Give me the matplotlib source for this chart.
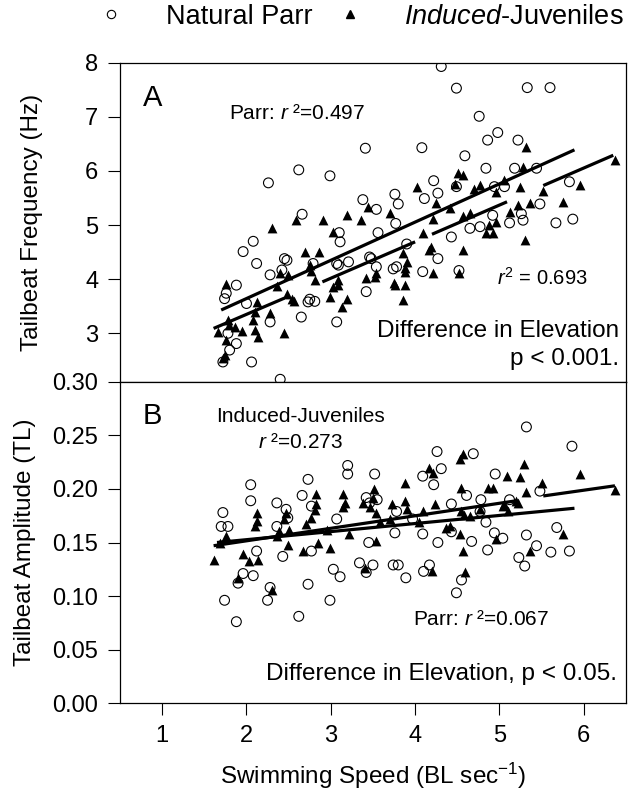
import numpy as np
import matplotlib
matplotlib.use("Agg")
import matplotlib.pyplot as plt
from matplotlib.lines import Line2D

plt.rcParams.update({
    "font.family": ["Liberation Sans", "DejaVu Sans"],
    "mathtext.fontset": "custom",
    "mathtext.rm": "Liberation Sans",
    "mathtext.it": "Liberation Sans:italic",
    "mathtext.bf": "Liberation Sans:bold",
    "axes.linewidth": 0.9,
})

# ---- Panel A: tailbeat frequency (Hz) ----
parr_freq_x = [4.31, 4.49, 5.33, 5.60, 4.76, 4.98, 4.86, 5.22, 3.41, 4.08, 4.59, 2.62, 2.99, 2.26,
               4.84, 5.18, 5.44, 4.22, 4.27, 4.11, 4.49, 5.83, 4.94, 5.06, 3.38, 3.54, 3.76, 3.80,
               5.48, 5.87, 5.67, 5.12, 5.28, 5.26, 4.77, 4.65, 4.92, 4.43, 2.66, 3.10, 3.11, 3.56,
               3.77, 3.90, 2.08, 1.96, 2.12, 2.48, 2.42, 2.28, 3.07, 3.21, 3.46, 3.54, 3.78, 3.74,
               4.09, 4.27, 4.52, 3.42, 2.75, 2.81, 2.65, 3.07, 1.88, 1.74, 2.28, 2.00, 1.88, 1.78,
               2.06, 1.72, 2.40, 1.80, 2.45, 2.73, 2.79, 3.09, 3.48, 1.76]
parr_freq_y = [7.93, 7.53, 7.54, 7.54, 7.01, 6.71, 6.57, 6.57, 6.42, 6.43, 6.28, 6.02, 5.91, 5.78,
               6.05, 6.05, 6.05, 5.82, 5.59, 5.49, 5.71, 5.80, 5.71, 5.71, 5.47, 5.29, 5.57, 5.39,
               5.39, 5.11, 5.04, 5.04, 5.09, 5.21, 4.97, 4.94, 5.18, 4.78, 5.20, 4.86, 4.69, 4.86,
               5.03, 4.65, 4.70, 4.51, 4.29, 4.35, 4.17, 4.08, 4.29, 4.32, 4.41, 4.23, 4.23, 4.19,
               4.14, 4.38, 4.16, 3.77, 3.63, 3.59, 3.30, 3.21, 3.89, 3.64, 3.21, 3.55, 2.81, 3.00,
               2.47, 2.47, 2.15, 2.69, 4.38, 3.58, 4.29, 4.26, 4.38, 3.74]

ind_freq_x = [5.32, 6.37, 5.95, 5.75, 5.52, 5.30, 5.28, 5.06, 4.96, 5.24, 5.36, 5.22, 5.12, 4.77,
              4.70, 4.51, 4.57, 4.47, 4.88, 4.96, 4.84, 4.92, 4.65, 4.57, 4.41, 4.21, 4.25, 4.02,
              4.09, 4.19, 4.17, 4.57, 4.21, 4.52, 3.86, 3.90, 3.88, 3.76, 3.88, 3.86, 3.70, 3.44,
              3.36, 3.19, 2.91, 2.59, 3.03, 2.30, 2.69, 2.86, 3.54, 3.42, 3.09, 3.03, 2.99, 3.19,
              3.13, 2.81, 2.77, 2.40, 2.36, 2.48, 2.54, 2.12, 2.10, 2.08, 2.10, 2.14, 1.95, 1.86,
              1.76, 1.79, 1.66, 1.76, 1.74, 2.45, 1.72, 1.78, 2.28, 2.56, 2.49, 2.75, 3.52, 3.75,
              3.88, 3.09]
ind_freq_y = [6.45, 6.20, 5.74, 5.43, 5.63, 4.72, 6.08, 5.83, 5.62, 5.71, 5.40, 5.37, 5.25, 5.74,
              5.66, 5.96, 5.92, 5.75, 5.00, 5.05, 4.85, 4.85, 5.22, 5.16, 5.31, 5.12, 5.40, 5.71,
              4.85, 4.60, 4.53, 4.54, 4.11, 4.11, 4.48, 4.31, 4.13, 3.89, 3.90, 3.61, 5.22, 5.34,
              5.09, 5.18, 5.09, 5.09, 4.88, 4.94, 4.51, 4.51, 4.11, 4.02, 3.98, 3.86, 3.67, 3.64,
              3.49, 3.98, 4.16, 4.11, 3.87, 3.73, 3.64, 3.58, 3.39, 3.24, 3.06, 2.94, 3.05, 3.12,
              3.92, 3.15, 3.03, 2.87, 2.59, 3.00, 2.54, 3.24, 3.37, 3.60, 4.08, 4.26, 4.04, 3.93,
              4.20, 3.89]

# regression lines as drawn (gaps kept)
parr_freq_fit_x = [1.70, 5.89]
parr_freq_fit_y = [3.43, 6.39]
ind_freq_fit_x = [1.61, 2.45, np.nan, 2.90, 4.00, np.nan, 4.20, 5.09, np.nan, 5.52, 6.35]
ind_freq_fit_y = [3.09, 3.65, np.nan, 3.95, 4.69, np.nan, 4.83, 5.43, np.nan, 5.73, 6.29]

# ---- Panel B: tailbeat amplitude (TL) ----
parr_amp_x = [5.32, 5.86, 4.26, 4.69, 3.20, 3.20, 3.52, 2.73, 4.31, 4.09, 4.22, 2.05, 2.05, 4.95,
              2.66, 2.77, 2.36, 2.47, 3.42, 3.55, 1.72, 1.70, 1.78, 5.48, 4.61, 4.78, 4.43, 3.78,
              5.12, 5.68, 4.84, 4.09, 4.27, 4.67, 5.04, 5.32, 5.44, 5.61, 5.83, 4.86, 5.23, 5.30,
              3.45, 3.34, 3.50, 3.42, 3.74, 3.80, 3.89, 4.10, 4.17, 4.55, 4.49, 3.03, 3.11, 2.73,
              2.99, 2.62, 1.88, 1.74, 2.25, 2.28, 1.90, 1.96, 2.08, 2.12, 2.43, 2.77, 3.07, 2.49,
              2.36, 3.76, 4.77, 3.46, 4.94, 4.43, 3.97]
parr_amp_y = [0.258, 0.240, 0.235, 0.233, 0.222, 0.214, 0.214, 0.209, 0.219, 0.212, 0.204, 0.204,
              0.189, 0.214, 0.194, 0.184, 0.187, 0.181, 0.192, 0.190, 0.178, 0.165, 0.165, 0.198,
              0.194, 0.190, 0.186, 0.179, 0.190, 0.164, 0.169, 0.158, 0.150, 0.151, 0.154, 0.157,
              0.147, 0.141, 0.142, 0.143, 0.136, 0.128, 0.150, 0.131, 0.129, 0.122, 0.129, 0.129,
              0.117, 0.123, 0.129, 0.115, 0.103, 0.125, 0.118, 0.111, 0.096, 0.081, 0.076, 0.096,
              0.096, 0.108, 0.112, 0.121, 0.119, 0.142, 0.137, 0.142, 0.172, 0.173, 0.165, 0.159,
              0.179, 0.187, 0.159, 0.160, 0.172]

ind_amp_x = [4.57, 4.53, 5.29, 5.95, 5.09, 5.24, 4.16, 4.21, 3.88, 4.92, 4.55, 5.51, 5.31, 3.51,
             3.50, 3.15, 3.17, 3.15, 2.83, 2.83, 2.81, 2.77, 2.71, 2.47, 2.45, 2.12, 2.12, 2.10,
             3.38, 3.46, 3.54, 3.88, 3.90, 4.23, 4.09, 4.55, 4.65, 5.10, 5.20, 4.57, 4.59, 4.20,
             3.41, 3.54, 4.96, 5.36, 5.75, 2.99, 2.67, 2.49, 1.96, 2.03, 2.14, 1.62, 1.90, 2.30,
             1.76, 1.68, 3.22, 3.58, 4.05, 4.41, 4.53, 4.77, 5.04, 2.51, 2.39, 2.95, 3.70, 2.36,
             4.86, 5.06, 5.22, 4.37, 3.72, 2.85, 4.58, 6.37]
ind_amp_y = [0.233, 0.228, 0.223, 0.214, 0.212, 0.211, 0.220, 0.215, 0.206, 0.201, 0.201, 0.206,
             0.197, 0.200, 0.192, 0.195, 0.187, 0.183, 0.195, 0.186, 0.180, 0.173, 0.167, 0.178,
             0.172, 0.178, 0.170, 0.165, 0.187, 0.183, 0.178, 0.189, 0.181, 0.186, 0.179, 0.179,
             0.175, 0.179, 0.189, 0.142, 0.122, 0.123, 0.126, 0.151, 0.153, 0.142, 0.158, 0.145,
             0.142, 0.148, 0.139, 0.133, 0.134, 0.134, 0.117, 0.106, 0.156, 0.150, 0.158, 0.169,
             0.169, 0.165, 0.158, 0.181, 0.184, 0.162, 0.161, 0.162, 0.172, 0.156, 0.201, 0.186,
             0.187, 0.164, 0.186, 0.150, 0.176, 0.199]

parr_amp_fit_x = [1.65, 5.89]
parr_amp_fit_y = [0.150, 0.182]
ind_amp_fit_x = [1.61, 5.20, np.nan, 5.52, 6.37]
ind_amp_fit_y = [0.147, 0.189, np.nan, 0.1935, 0.203]

x_ticks = [1, 2, 3, 4, 5, 6]
freq_ticks = [3, 4, 5, 6, 7, 8]
amp_ticks = [0.00, 0.05, 0.10, 0.15, 0.20, 0.25, 0.30]

fig = plt.figure(figsize=(6.3, 7.94), dpi=100)
axA = fig.add_axes([0.1905, 0.5189, 0.803, 0.4021])
axB = fig.add_axes([0.1905, 0.1146, 0.803, 0.4043])

marker_size = 50


def draw_panel(ax, px, py, ix, iy, pfx, pfy, ifx, ify):
    ax.scatter(px, py, s=marker_size, marker='o', facecolors='none',
               edgecolors='black', linewidths=0.8, zorder=2)
    ax.scatter(ix, iy, s=marker_size, marker='^', color='black',
               linewidths=0, zorder=3)
    ax.plot(pfx, pfy, color='black', lw=2.3, zorder=4, solid_capstyle='butt')
    ax.plot(ifx, ify, color='black', lw=2.3, zorder=4, solid_capstyle='butt')
    ax.set_xlim(0.5, 6.5)
    ax.tick_params(direction='out', length=8.5, width=0.8, labelsize=17, pad=7)


draw_panel(axA, parr_freq_x, parr_freq_y, ind_freq_x, ind_freq_y,
           parr_freq_fit_x, parr_freq_fit_y, ind_freq_fit_x, ind_freq_fit_y)
draw_panel(axB, parr_amp_x, parr_amp_y, ind_amp_x, ind_amp_y,
           parr_amp_fit_x, parr_amp_fit_y, ind_amp_fit_x, ind_amp_fit_y)

# Panel A axes
axA.set_ylim(2.1, 8.0)
axA.set_yticks(freq_ticks)
axA.set_xticks(x_ticks)
axA.tick_params(axis='x', bottom=False, labelbottom=False)
axA.set_ylabel('Tailbeat Frequency (Hz)', fontsize=17.5)
axA.yaxis.set_label_coords(-0.152, 0.5)

# Panel B axes
axB.set_ylim(0, 0.30)
axB.set_yticks(amp_ticks)
axB.set_yticklabels([f'{t:.2f}' for t in amp_ticks])
axB.set_xticks(x_ticks)
axB.set_ylabel('Tailbeat Amplitude (TL)', fontsize=17.5)
axB.yaxis.set_label_coords(-0.166, 0.5)
axB.set_xlabel('Swimming Speed (BL sec$^{-1}$)', fontsize=17.5, labelpad=10)

# panel annotations
axA.text(0.045, 0.889, 'A', transform=axA.transAxes, fontsize=21, va='center')
axA.text(0.215, 0.842, 'Parr: $\\mathit{r}$ ²=0.497', transform=axA.transAxes,
         fontsize=15, va='center')
axA.text(0.745, 0.327, '$\\mathit{r}^2$ = 0.693', transform=axA.transAxes,
         fontsize=14.5, va='center')
axA.text(0.986, 0.160, 'Difference in Elevation', transform=axA.transAxes,
         fontsize=17.5, ha='right', va='center')
axA.text(0.986, 0.072, 'p < 0.001.', transform=axA.transAxes,
         fontsize=17.5, ha='right', va='center')

axB.text(0.045, 0.893, 'B', transform=axB.transAxes, fontsize=21, va='center')
axB.text(0.356, 0.893, 'Induced-Juveniles', transform=axB.transAxes,
         fontsize=15, ha='center', va='center')
axB.text(0.356, 0.811, '$\\mathit{r}$ ²=0.273', transform=axB.transAxes,
         fontsize=15, ha='center', va='center')
axB.text(0.579, 0.260, 'Parr: $\\mathit{r}$ ²=0.067', transform=axB.transAxes,
         fontsize=15, va='center')
axB.text(0.982, 0.090, 'Difference in Elevation, p < 0.05.', transform=axB.transAxes,
         fontsize=17.5, ha='right', va='center')

# legend on top
handles = [
    Line2D([], [], ls='none', marker='o', mfc='none', mec='black', mew=0.8, ms=6),
    Line2D([], [], ls='none', marker='^', color='black', ms=6),
]
labels = ['Natural Parr', '$\\mathit{Induced}$-Juveniles']
fig.legend(handles, labels, loc='center', bbox_to_anchor=(0.573, 0.979), ncol=2,
           frameon=False, fontsize=19.5, handlelength=1.0, handletextpad=1.5,
           columnspacing=0.9, borderpad=0, borderaxespad=0)

fig.savefig('out.png', dpi=100)
